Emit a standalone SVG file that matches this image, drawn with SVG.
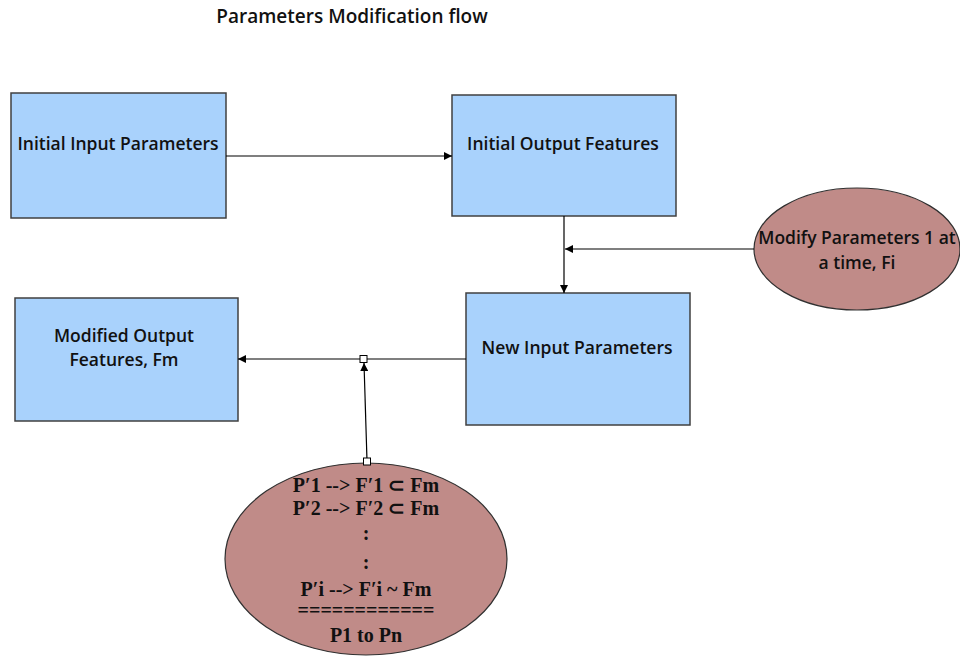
<svg xmlns="http://www.w3.org/2000/svg" width="960" height="658" viewBox="0 0 960 658">
<defs>
<marker id="ah" viewBox="0 0 10 10" refX="10" refY="5" markerWidth="8" markerHeight="8" markerUnits="userSpaceOnUse" orient="auto">
<path d="M0,0 L10,5 L0,10 z" fill="#000"/>
</marker>
<style>
.box{fill:#a9d2fc;stroke:#404040;stroke-width:1.5}
.ell{fill:#c08b88;stroke:#303030;stroke-width:1.2}
.lbl{font-family:"Open Sans","Liberation Sans",sans-serif;font-weight:600;font-size:17.5px;fill:#111;text-anchor:middle}
.tm{font-family:"Liberation Serif",serif;font-weight:bold;font-size:20px;fill:#111;text-anchor:middle}
.con{stroke:#000;stroke-width:1.2;fill:none}
.jn{fill:#fff;stroke:#000;stroke-width:1}
</style>
</defs>
<rect width="960" height="658" fill="#fff"/>
<text x="352" y="23" class="lbl" style="font-size:19px">Parameters Modification flow</text>

<g id="n1">
<rect class="box" x="11" y="93" width="215" height="125"/>
<text class="lbl" x="118" y="150">Initial Input Parameters</text>
</g>
<g id="n2">
<rect class="box" x="452" y="95" width="224" height="121"/>
<text class="lbl" x="563" y="150">Initial Output Features</text>
</g>
<g id="n3">
<rect class="box" x="466" y="293" width="224" height="132"/>
<text class="lbl" x="577" y="354">New Input Parameters</text>
</g>
<g id="n4">
<rect class="box" x="15" y="298" width="223" height="123"/>
<text class="lbl" x="124" y="342">Modified Output</text>
<text class="lbl" x="124" y="366">Features, Fm</text>
</g>
<g id="n5">
<ellipse class="ell" cx="857" cy="249" rx="103" ry="61"/>
<text class="lbl" x="857" y="244">Modify Parameters 1 at</text>
<text class="lbl" x="857" y="269">a time, Fi</text>
</g>
<g id="n6">
<ellipse class="ell" cx="366" cy="559" rx="141" ry="96"/>
<text class="tm" x="366" y="492">P′1 --&gt; F′1 ⊂ Fm</text>
<text class="tm" x="366" y="515">P′2 --&gt; F′2 ⊂ Fm</text>
<text class="tm" x="366" y="540">:</text>
<text class="tm" x="366" y="569">:</text>
<text class="tm" x="366" y="596">P′i --&gt; F′i ~ Fm</text>
<text class="tm" x="366" y="617">============</text>
<text class="tm" x="366" y="642">P1 to Pn</text>
</g>

<g id="connectors">
<line class="con" x1="226" y1="156" x2="452" y2="156" marker-end="url(#ah)"/>
<line class="con" x1="564" y1="216" x2="564" y2="293" marker-end="url(#ah)"/>
<line class="con" x1="754" y1="249" x2="565" y2="249" marker-end="url(#ah)"/>
<line class="con" x1="466" y1="359" x2="238" y2="359" marker-end="url(#ah)"/>
<line class="con" x1="367" y1="461" x2="364" y2="363" marker-end="url(#ah)"/>
<rect class="jn" x="360" y="355.5" width="7" height="7"/>
<rect class="jn" x="363.5" y="458" width="7" height="7"/>
</g>
</svg>
